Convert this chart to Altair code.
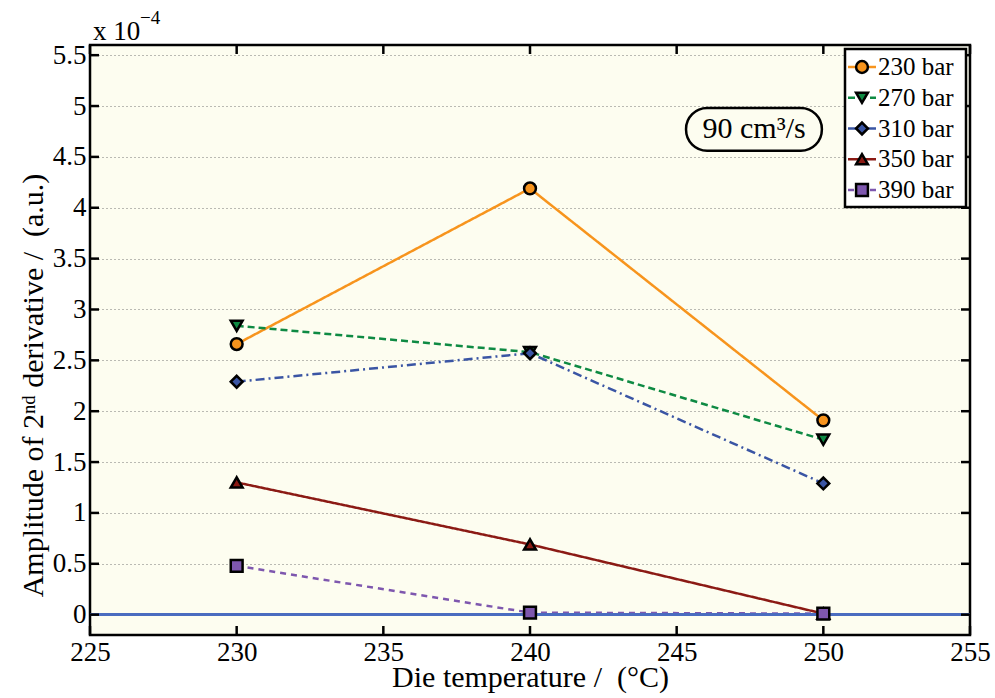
import altair as alt
import pandas as pd

# ---------------- data ----------------
temps = [230, 240, 250]
series = ["230 bar", "270 bar", "310 bar", "350 bar", "390 bar"]
v230 = [2.66, 4.19, 1.91]
v270 = [2.84, 2.58, 1.72]
v310 = [2.29, 2.57, 1.29]
v350 = [1.30, 0.69, 0.01]
v390 = [0.48, 0.02, 0.01]
x_ticks = [225, 230, 235, 240, 245, 250, 255]
y_ticks = [0, 0.5, 1, 1.5, 2, 2.5, 3, 3.5, 4, 4.5, 5, 5.5]

colors = ["#F7941D", "#0E8A43", "#3A55A4", "#8B1A14", "#7E57AE"]
shapes = ["circle", "triangle-down", "diamond", "triangle-up", "square"]
dashes = [[1, 0], [7, 4], [9, 4, 2, 4], [1, 0], [6, 5]]
sizes = [140, 140, 140, 140, 45]

rows = []
for s, vals in zip(series, [v230, v270, v310, v350, v390]):
    for t, v in zip(temps, vals):
        rows.append({"series": s, "temp": t, "value": v})
df = pd.DataFrame(rows)
xt_df = pd.DataFrame({"temp": x_ticks})
yt_df = pd.DataFrame({"value": y_ticks})
leg_df = pd.DataFrame({"series": series})

note = pd.DataFrame({"temp": [247.64], "value": [4.77], "x0": [245.32], "x1": [249.95],
                     "y0": [4.56], "y1": [4.98], "text": ["90 cm³/s"]})

W, H = 880, 590
F = "Liberation Serif"

xs = alt.Scale(domain=[225, 255], nice=False, zero=False)
ys = alt.Scale(domain=[-0.2, 5.6], nice=False, zero=False)
col = alt.Scale(domain=series, range=colors)
shp = alt.Scale(domain=series, range=shapes)
dsh = alt.Scale(domain=series, range=dashes)
siz = alt.Scale(domain=series, range=sizes)

lbl = "'' + datum.value"

x_main = alt.Axis(orient="bottom", values=x_ticks, labelExpr=lbl, tickSize=0, domain=False,
                  grid=False, labelFlush=False, labelOverlap=False,
                  title="Die temperature /\u00a0 (°C)", titleFont=F, titleFontSize=30,
                  titleFontWeight="normal", titleColor="black", labelFont=F, labelFontSize=27,
                  labelColor="black", labelPadding=4, titlePadding=-3)
y_main = alt.Axis(orient="left", values=y_ticks, labelExpr=lbl, tickSize=0, domain=False,
                  grid=True, gridDash=[1, 3], gridColor="#777777", gridWidth=1,
                  labelFlush=False, labelOverlap=False,
                  title="Amplitude of 2ⁿᵈ derivative /\u00a0 (a.u.)", titleFont=F, titleFontSize=30,
                  titleFontWeight="normal", titleColor="black", labelFont=F, labelFontSize=27,
                  labelColor="black", labelPadding=4, titlePadding=4, titleY=340)

X = lambda f: alt.X(f, type="quantitative", scale=xs, axis=x_main)
Y = lambda f: alt.Y(f, type="quantitative", scale=ys, axis=y_main)

lines = alt.Chart(df).mark_line(strokeWidth=2.5).encode(
    x=X("temp"), y=Y("value"),
    color=alt.Color("series:N", scale=col, legend=None),
    strokeDash=alt.StrokeDash("series:N", scale=dsh, legend=None),
)

# inward tick marks on all four sides
tk = dict(color="black", strokeWidth=2.5)
yt_left = alt.Chart(yt_df).mark_rule(**tk).encode(y=Y("value"), x=alt.value(0), x2=alt.value(9))
yt_right = alt.Chart(yt_df).mark_rule(**tk).encode(y=Y("value"), x=alt.value(W - 9), x2=alt.value(W))
xt_bot = alt.Chart(xt_df).mark_rule(**tk).encode(x=X("temp"), y=alt.value(H - 9), y2=alt.value(H))
xt_top = alt.Chart(xt_df).mark_rule(**tk).encode(x=X("temp"), y=alt.value(0), y2=alt.value(9))

zero = alt.Chart(df).mark_rule(color="#4A6CC0", strokeWidth=2.5).encode(
    y=alt.datum(0, scale=ys, axis=y_main), x=alt.value(0), x2=alt.value(W)
)

points = alt.Chart(df).mark_point(filled=True, stroke="black", strokeWidth=2.5, opacity=1).encode(
    x=X("temp"), y=Y("value"),
    color=alt.Color("series:N", scale=col, legend=None),
    shape=alt.Shape("series:N", scale=shp, legend=None),
    size=alt.Size("series:N", scale=siz, legend=None),
)

box = alt.Chart(note).mark_rect(cornerRadius=21, fill="#fdfdf0", stroke="black", strokeWidth=2.5).encode(
    x=X("x0"), x2="x1:Q", y=Y("y0"), y2="y1:Q",
)
boxtext = alt.Chart(note).mark_text(font=F, fontSize=30, color="black").encode(
    x=X("temp"), y=Y("value"), text="text:N",
)

exp1 = alt.Chart(note).mark_text(font=F, fontSize=27, color="black", align="left",
                                 baseline="alphabetic").encode(
    x=alt.value(3), y=alt.value(-5), text=alt.value("x 10"))
exp2 = alt.Chart(note).mark_text(font=F, fontSize=19, color="black", align="left",
                                 baseline="alphabetic").encode(
    x=alt.value(50), y=alt.value(-21), text=alt.value("−4"))

main = alt.layer(lines, zero, points, yt_left, yt_right, xt_bot, xt_top,
                 box, boxtext, exp1, exp2)

# ---- legend drawn as marks (series placed by a point scale) ----
ly = alt.Y("series:N", scale=alt.Scale(type="point", domain=series, range=[22, 145], padding=0),
           axis=None)
leg_box = alt.Chart(note).mark_rect(fill="white", stroke="black", strokeWidth=2.5).encode(
    x=alt.value(755), x2=alt.value(876), y=alt.value(4), y2=alt.value(162))
leg_line = alt.Chart(leg_df).mark_rule(strokeWidth=2.5).encode(
    y=ly, x=alt.value(758), x2=alt.value(786),
    color=alt.Color("series:N", scale=col, legend=None),
    strokeDash=alt.StrokeDash("series:N", scale=dsh, legend=None))
leg_pt = alt.Chart(leg_df).mark_point(filled=True, stroke="black", strokeWidth=2.5, opacity=1).encode(
    y=ly, x=alt.value(772),
    color=alt.Color("series:N", scale=col, legend=None),
    shape=alt.Shape("series:N", scale=shp, legend=None),
    size=alt.Size("series:N", scale=siz, legend=None))
leg_txt = alt.Chart(leg_df).mark_text(font=F, fontSize=25, color="black", align="left",
                                      baseline="middle").encode(
    y=ly, x=alt.value(788), text="series:N")
legend = alt.layer(leg_box, leg_line, leg_pt, leg_txt)

chart = alt.layer(main, legend).resolve_scale(y="independent").properties(
    width=W, height=H,
    autosize=alt.AutoSizeParams(type="none"),
    padding={"left": 90, "top": 45, "right": 25, "bottom": 63},
).configure_view(
    stroke="black", strokeWidth=2.5, fill="#fdfdf0"
)

chart.save("out.html", embed_options={"renderer": "svg", "actions": False})
